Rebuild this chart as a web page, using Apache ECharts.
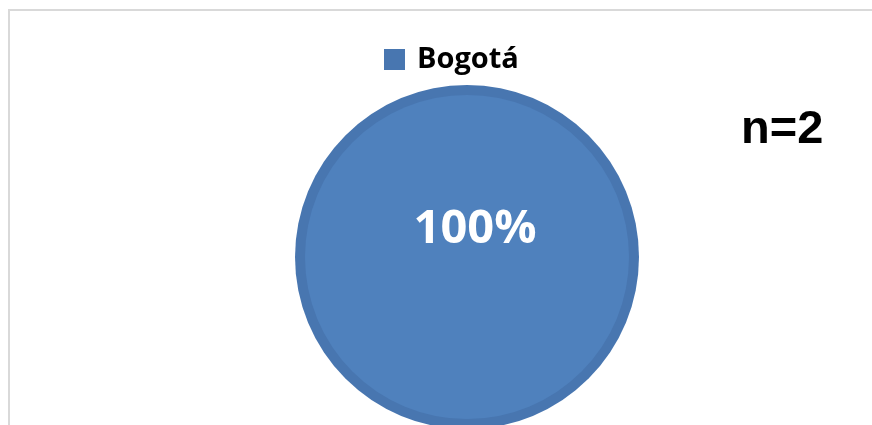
<!DOCTYPE html>
<html>
<head>
<meta charset="utf-8">
<script src="https://cdn.jsdelivr.net/npm/echarts@6/dist/echarts.min.js"></script>
<style>
  html, body { margin: 0; padding: 0; background: #fff; }
  #chart { width: 872px; height: 425px; }
</style>
</head>
<body>
<div id="chart"></div>
<script>
// Distribution by city
const categories = ['Bogotá'];
const values = [2];
const sampleLabel = 'n=2';

const edgeColor = '#4876b0';
const fillColor = '#4f81bd';

const pieData = categories.map((name, i) => ({ name, value: values[i] }));
const total = values.reduce((a, b) => a + b, 0);

const chart = echarts.init(document.getElementById('chart'));
chart.setOption({
  animation: false,
  legend: {
    data: categories,
    left: 379,
    top: 40,
    itemWidth: 21,
    itemHeight: 21,
    icon: 'rect',
    textStyle: {
      fontFamily: 'Open Sans',
      fontWeight: 'bold',
      fontSize: 29,
      color: '#000',
      padding: [0, 0, 0, 7]
    }
  },
  graphic: [
    {
      type: 'rect',
      shape: { x: 9, y: 10, width: 1000, height: 600 },
      style: { fill: 'none', stroke: '#d9d9d9', lineWidth: 2 },
      silent: true
    },
    {
      type: 'text',
      left: 741,
      top: 107,
      style: {
        text: sampleLabel,
        fontFamily: 'Liberation Sans',
        fontWeight: 'bold',
        fontSize: 47,
        fill: '#000'
      }
    }
  ],
  series: [
    {
      // darker rim of the pie
      type: 'pie',
      name: 'rim',
      center: [467, 257],
      radius: [0, 172],
      startAngle: 90,
      silent: true,
      label: { show: false },
      labelLine: { show: false },
      itemStyle: { color: edgeColor },
      data: pieData
    },
    {
      type: 'pie',
      name: 'Ciudad',
      center: [467, 257],
      radius: [0, 162],
      startAngle: 90,
      itemStyle: { color: fillColor },
      label: {
        show: true,
        position: 'center',
        offset: [8, -27],
        formatter: (p) => Math.round(p.value / total * 100) + '%',
        fontFamily: 'Open Sans',
        fontWeight: 'bold',
        fontSize: 47,
        color: '#fff'
      },
      labelLine: { show: false },
      emphasis: { disabled: true },
      data: pieData
    }
  ]
});
</script>
</body>
</html>
